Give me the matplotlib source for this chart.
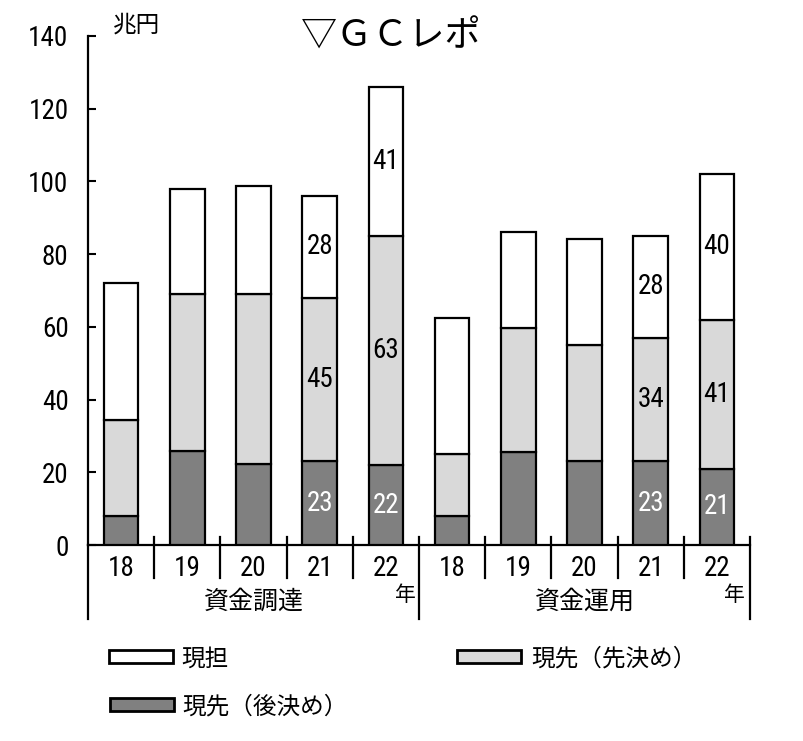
import matplotlib
matplotlib.use("Agg")
import matplotlib.pyplot as plt
from matplotlib.patches import Rectangle
from matplotlib import font_manager
import numpy as np

# ---- data ----
years = ["18", "19", "20", "21", "22", "18", "19", "20", "21", "22"]
groups = ["資金調達", "資金運用"]
atozuke = [8, 25.8, 22.4, 23, 22, 7.9, 25.7, 23.1, 23, 21]      # 現先（後決め）
sakizuke = [26.5, 43.2, 46.6, 45, 63, 17.1, 33.9, 31.8, 34, 41]   # 現先（先決め）
gentan = [37.7, 29, 29.7, 28, 41, 37.4, 26.4, 29.3, 28, 40]       # 現担
labeled = [False, False, False, True, True, False, False, False, True, True]
series_names = ["現担", "現先（先決め）", "現先（後決め）"]
title = "▽ＧＣレポ"
unit = "兆円"
year_suffix = "年"

colors = {"gentan": "#ffffff", "saki": "#d9d9d9", "ato": "#808080"}

names = {f.name for f in font_manager.fontManager.ttflist}
num_font = "Liberation Sans"
for cand in ["Roboto Condensed", "Archivo Narrow", "PT Sans Narrow", "Liberation Sans Narrow"]:
    if cand in names:
        num_font = cand
        break
cjk = ["Noto Sans CJK JP", "DejaVu Sans"]
plt.rcParams["font.family"] = cjk
NUM_FS = 19.5

W, H = 804, 741
fig = plt.figure(figsize=(W / 100, H / 100), dpi=100)
ax_l, ax_r, ax_b, ax_t = 88, 750, 545, 36
ax = fig.add_axes([ax_l / W, 1 - ax_b / H, (ax_r - ax_l) / W, (ax_b - ax_t) / H])
axh = ax_b - ax_t

x = np.arange(len(years))
bw = 0.52
lw = 1.6
a = np.array(atozuke)
s = np.array(sakizuke)
g = np.array(gentan)
ax.bar(x, a, bw, color=colors["ato"], edgecolor="black", linewidth=lw, zorder=3)
ax.bar(x, s, bw, bottom=a, color=colors["saki"], edgecolor="black", linewidth=lw, zorder=3)
ax.bar(x, g, bw, bottom=a + s, color=colors["gentan"], edgecolor="black", linewidth=lw, zorder=3)

for i in range(len(years)):
    if labeled[i]:
        ax.text(x[i], a[i] / 2, f"{a[i]:.0f}", ha="center", va="center", color="white",
                fontsize=NUM_FS, family=num_font, zorder=4)
        ax.text(x[i], a[i] + s[i] / 2, f"{s[i]:.0f}", ha="center", va="center", color="black",
                fontsize=NUM_FS, family=num_font, zorder=4)
        ax.text(x[i], a[i] + s[i] + g[i] / 2, f"{g[i]:.0f}", ha="center", va="center", color="black",
                fontsize=NUM_FS, family=num_font, zorder=4)

ax.set_xlim(-0.5, len(years) - 0.5)
ax.set_ylim(0, 140)
ax.set_yticks(np.arange(0, 141, 20))
ax.tick_params(axis="y", direction="in", length=6, width=1.5, pad=14)
for lab in ax.get_yticklabels():
    lab.set_fontfamily(num_font)
    lab.set_fontsize(NUM_FS)
ax.set_xticks(x)
ax.set_xticklabels(years)
ax.tick_params(axis="x", length=0, pad=7)
for lab in ax.get_xticklabels():
    lab.set_fontfamily(num_font)
    lab.set_fontsize(NUM_FS)

for sp in ["top", "right"]:
    ax.spines[sp].set_visible(False)
for sp in ["left", "bottom"]:
    ax.spines[sp].set_linewidth(1.6)

tr = ax.get_xaxis_transform()
n = len(years)
half = n // 2
for b in range(n + 1):
    xb = b - 0.5
    if b in (0, half, n):
        y0, y1 = -74 / axh, (0 if b == 0 else 8 / axh)
    else:
        y0, y1 = -33 / axh, 8 / axh
    ax.plot([xb, xb], [y0, y1], color="black", lw=1.6, transform=tr, clip_on=False, zorder=5)

ax.text(2.0, -57 / axh, groups[0], transform=tr, ha="center", va="center", fontsize=18)
ax.text(7.0, -57 / axh, groups[1], transform=tr, ha="center", va="center", fontsize=18)
ax.text(4.29, -50 / axh, year_suffix, transform=tr, ha="center", va="center", fontsize=15)
ax.text(9.27, -50 / axh, year_suffix, transform=tr, ha="center", va="center", fontsize=15)

ax.text((137 - ax_l) / (ax_r - ax_l), (ax_b - 25) / axh, unit, transform=ax.transAxes,
        ha="center", va="center", fontsize=17)
fig.text(391 / W, 1 - 37 / H, title, ha="center", va="center", fontsize=26)

# legend (manual)
leg = [
    (109, 650, colors["gentan"], series_names[0], 181, 659),
    (457, 650, colors["saki"], series_names[1], 531, 659),
    (110, 698, colors["ato"], series_names[2], 182, 707),
]
for px, py, col, name, tx, ty in leg:
    fig.add_artist(Rectangle((px / W, 1 - (py + 13) / H), 64 / W, 13 / H, facecolor=col,
                             edgecolor="black", linewidth=2, transform=fig.transFigure))
    fig.text(tx / W, 1 - ty / H, name, ha="left", va="center", fontsize=17)

fig.savefig("out.png", dpi=100)
